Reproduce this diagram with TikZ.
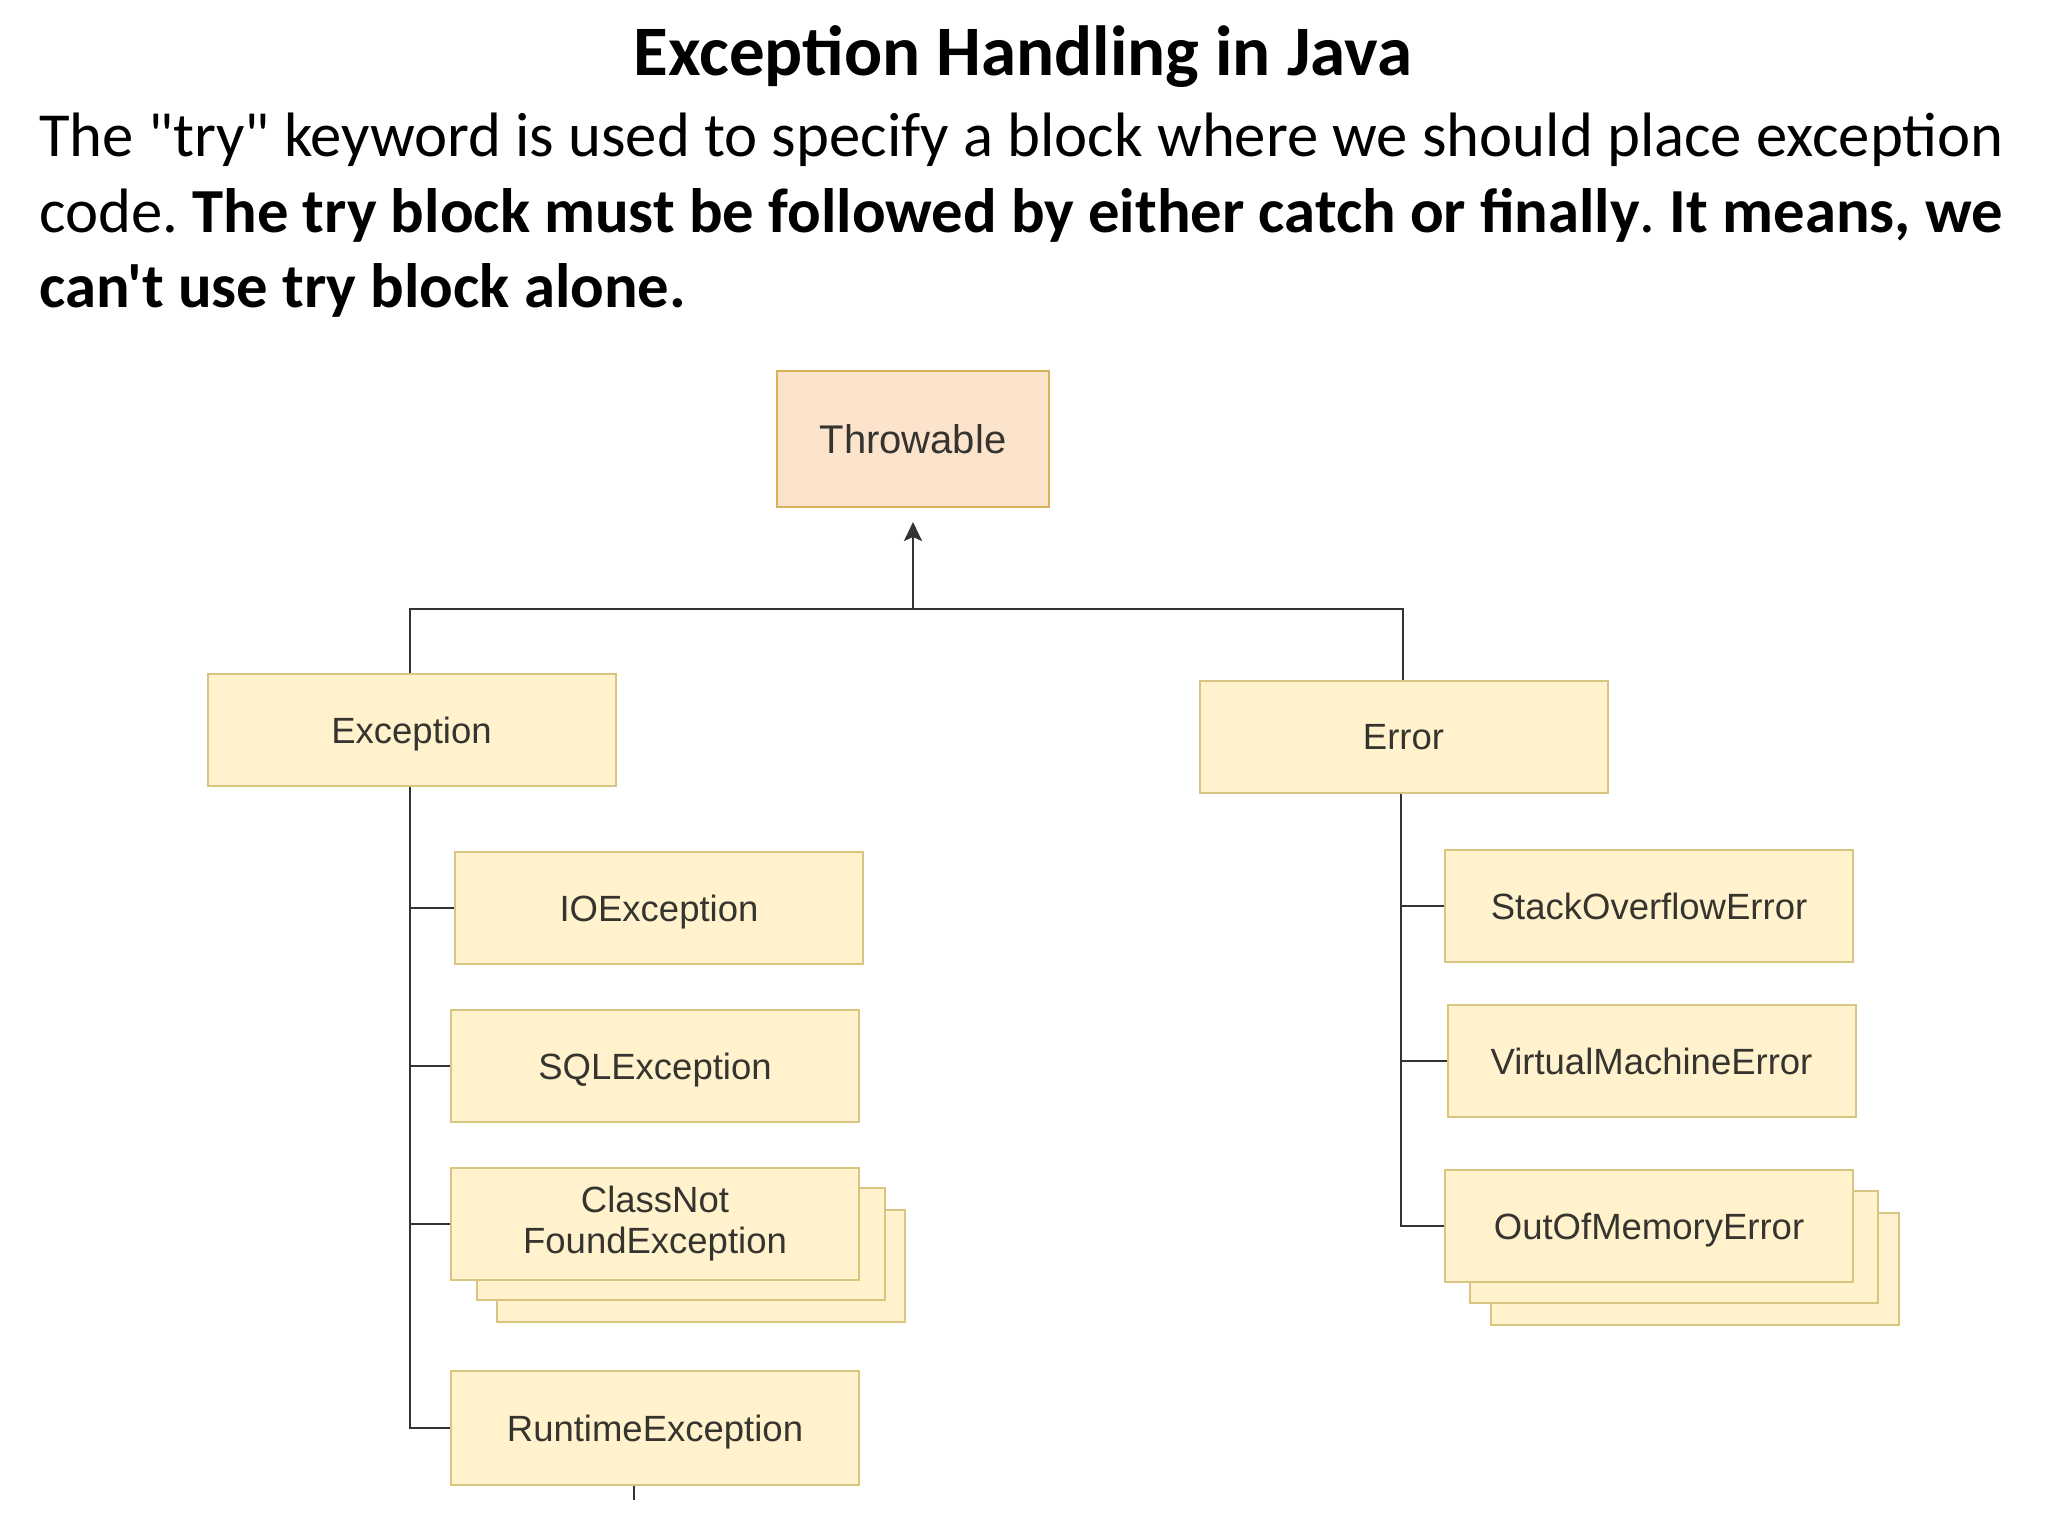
\documentclass[tikz,border=0pt]{standalone}
\usepackage{fontspec}
\setmainfont{Carlito}[Ligatures=TeXOff]
\newfontfamily\boxfont{Liberation Sans}
\usetikzlibrary{arrows.meta}
\definecolor{boxfill}{HTML}{FFF2CC}
\definecolor{boxline}{HTML}{D9C580}
\definecolor{topfill}{HTML}{FCE3CC}
\definecolor{topline}{HTML}{D8B25A}
\definecolor{lineclr}{HTML}{333333}
\definecolor{txt}{HTML}{36342F}
\tikzset{
  cls/.style={draw=boxline, fill=boxfill, line width=2pt, minimum width=408pt,
    minimum height=112pt, inner sep=0pt, text=txt, align=center,
    font=\boxfont\fontsize{36.5}{42}\selectfont},
  one/.style={text height=26pt, text depth=0pt},
  topcls/.style={cls, fill=topfill, draw=topline, minimum width=272pt, minimum height=136pt,
    font=\boxfont\fontsize{40}{46}\selectfont, text height=28.6pt, text depth=0pt},
  conn/.style={draw=lineclr, line width=2.5pt},
  para/.style={anchor=base west, inner sep=0pt, font=\fontsize{62.7}{75}\selectfont},
}
\frenchspacing
\begin{document}
\begin{tikzpicture}[x=1pt,y=-1pt]
\useasboundingbox (0,0) rectangle (2048,1536);
\fill[white] (0,0) rectangle (2048,1536);

% title and text
\node[anchor=base, inner sep=0pt, font=\bfseries\fontsize{71}{80}\selectfont] (title) at (1023,76) {Exception Handling in Java};
\node[para] (l1) at (39,157) {The "try" keyword is used to specify a block where we should place exception};
\node[para] (l2) at (39,232) {code. \textbf{The try block must be followed by either catch or finally}. \textbf{It means, we}};
\node[para] (l3) at (39,307) {\textbf{can't use try block alone.}};

% boxes
\node[topcls] (thr) at (913,439) {Throwable};
\node[cls, one] (exc) at (411.5,730) {Exception};
\node[cls, one] (err) at (1403.5,736.5) {Error};
\node[cls, one] (io) at (659,908) {IOException};
\node[cls, one] (sql) at (655,1066) {SQLException};
\node[cls] (cnf3) at (701,1266) {};
\node[cls] (cnf2) at (680.5,1243.5) {};
\node[cls] (cnf) at (655,1224) {\raisebox{-4pt}{ClassNot}\\[-1pt]\raisebox{-4pt}{FoundException}};
\node[cls, one, minimum height=114pt] (rt) at (655,1428) {RuntimeException};
\node[cls, one] (so) at (1649,906) {StackOverflowError};
\node[cls, one] (vm) at (1651.5,1061) {VirtualMachineError};
\node[cls] (oom3) at (1694.5,1269) {};
\node[cls] (oom2) at (1673.5,1247) {};
\node[cls, one] (oom) at (1649,1226) {OutOfMemoryError};

% connectors
\coordinate (j) at (913,609);
\coordinate (ej) at (410,609);
\coordinate (rj) at (1403,609);
\draw[conn, -{Stealth[length=19pt,width=18pt,inset=4pt]}, shorten >=14pt] (j) -- (thr.south);
\draw[conn] (exc.north -| ej) -- (ej) -- (rj) -- (err.north -| rj);
\coordinate (et) at (410,786);
\draw[conn] (exc.south -| et) -- (rt.west -| et) -- (rt.west);
\draw[conn] (io.west -| et) -- (io.west);
\draw[conn] (sql.west -| et) -- (sql.west);
\draw[conn] (cnf.west -| et) -- (cnf.west);
\coordinate (rt2) at (1401,793);
\draw[conn] (err.south -| rt2) -- (oom.west -| rt2) -- (oom.west);
\draw[conn] (so.west -| rt2) -- (so.west);
\draw[conn] (vm.west -| rt2) -- (vm.west);
\coordinate (tick) at (634,1486);
\draw[conn] (tick) -- ++(0,14);
\end{tikzpicture}
\end{document}
